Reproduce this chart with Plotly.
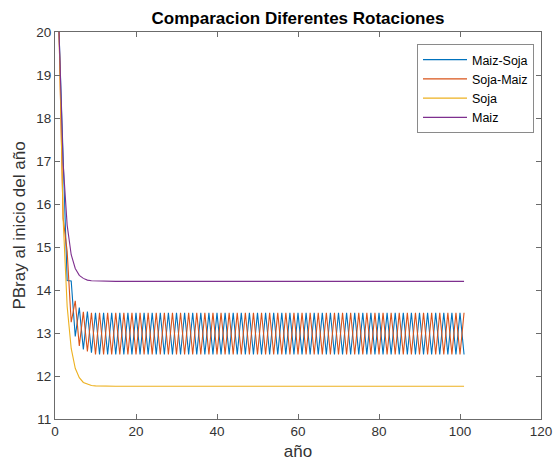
import plotly.graph_objects as go

anio = list(range(1, 102))

maiz_soja = [
    20.0, 16.95, 14.22, 14.21, 12.92, 13.59, 12.62, 13.50, 12.54, 13.47,
    12.50,
    13.47, 12.50, 13.47, 12.50, 13.47, 12.50, 13.47, 12.50, 13.47, 12.50,
    13.47, 12.50, 13.47, 12.50, 13.47, 12.50, 13.47, 12.50, 13.47, 12.50,
    13.47, 12.50, 13.47, 12.50, 13.47, 12.50, 13.47, 12.50, 13.47, 12.50,
    13.47, 12.50, 13.47, 12.50, 13.47, 12.50, 13.47, 12.50, 13.47, 12.50,
    13.47, 12.50, 13.47, 12.50, 13.47, 12.50, 13.47, 12.50, 13.47, 12.50,
    13.47, 12.50, 13.47, 12.50, 13.47, 12.50, 13.47, 12.50, 13.47, 12.50,
    13.47, 12.50, 13.47, 12.50, 13.47, 12.50, 13.47, 12.50, 13.47, 12.50,
    13.47, 12.50, 13.47, 12.50, 13.47, 12.50, 13.47, 12.50, 13.47, 12.50,
    13.47, 12.50, 13.47, 12.50, 13.47, 12.50, 13.47, 12.50, 13.47, 12.50,
]

soja_maiz = [
    20.0, 15.67, 14.90, 13.25, 13.75, 12.70, 13.49, 12.57, 13.47, 12.50,
    13.47,
    12.50, 13.47, 12.50, 13.47, 12.50, 13.47, 12.50, 13.47, 12.50, 13.47,
    12.50, 13.47, 12.50, 13.47, 12.50, 13.47, 12.50, 13.47, 12.50, 13.47,
    12.50, 13.47, 12.50, 13.47, 12.50, 13.47, 12.50, 13.47, 12.50, 13.47,
    12.50, 13.47, 12.50, 13.47, 12.50, 13.47, 12.50, 13.47, 12.50, 13.47,
    12.50, 13.47, 12.50, 13.47, 12.50, 13.47, 12.50, 13.47, 12.50, 13.47,
    12.50, 13.47, 12.50, 13.47, 12.50, 13.47, 12.50, 13.47, 12.50, 13.47,
    12.50, 13.47, 12.50, 13.47, 12.50, 13.47, 12.50, 13.47, 12.50, 13.47,
    12.50, 13.47, 12.50, 13.47, 12.50, 13.47, 12.50, 13.47, 12.50, 13.47,
    12.50, 13.47, 12.50, 13.47, 12.50, 13.47, 12.50, 13.47, 12.50, 13.47,
]

soja = [
    20.0, 15.67, 13.62, 12.64, 12.18, 11.96, 11.85, 11.81, 11.78, 11.77,
    11.765,
    11.76, 11.76, 11.76, 11.76, 11.76, 11.76, 11.76, 11.76, 11.76, 11.76,
    11.76, 11.76, 11.76, 11.76, 11.76, 11.76, 11.76, 11.76, 11.76, 11.76,
    11.76, 11.76, 11.76, 11.76, 11.76, 11.76, 11.76, 11.76, 11.76, 11.76,
    11.76, 11.76, 11.76, 11.76, 11.76, 11.76, 11.76, 11.76, 11.76, 11.76,
    11.76, 11.76, 11.76, 11.76, 11.76, 11.76, 11.76, 11.76, 11.76, 11.76,
    11.76, 11.76, 11.76, 11.76, 11.76, 11.76, 11.76, 11.76, 11.76, 11.76,
    11.76, 11.76, 11.76, 11.76, 11.76, 11.76, 11.76, 11.76, 11.76, 11.76,
    11.76, 11.76, 11.76, 11.76, 11.76, 11.76, 11.76, 11.76, 11.76, 11.76,
    11.76, 11.76, 11.76, 11.76, 11.76, 11.76, 11.76, 11.76, 11.76, 11.76,
]

maiz = [
    20.0, 16.95, 15.51, 14.82, 14.50, 14.34, 14.27, 14.23, 14.215, 14.21,
    14.205,
    14.2, 14.2, 14.2, 14.2, 14.2, 14.2, 14.2, 14.2, 14.2, 14.2,
    14.2, 14.2, 14.2, 14.2, 14.2, 14.2, 14.2, 14.2, 14.2, 14.2,
    14.2, 14.2, 14.2, 14.2, 14.2, 14.2, 14.2, 14.2, 14.2, 14.2,
    14.2, 14.2, 14.2, 14.2, 14.2, 14.2, 14.2, 14.2, 14.2, 14.2,
    14.2, 14.2, 14.2, 14.2, 14.2, 14.2, 14.2, 14.2, 14.2, 14.2,
    14.2, 14.2, 14.2, 14.2, 14.2, 14.2, 14.2, 14.2, 14.2, 14.2,
    14.2, 14.2, 14.2, 14.2, 14.2, 14.2, 14.2, 14.2, 14.2, 14.2,
    14.2, 14.2, 14.2, 14.2, 14.2, 14.2, 14.2, 14.2, 14.2, 14.2,
    14.2, 14.2, 14.2, 14.2, 14.2, 14.2, 14.2, 14.2, 14.2, 14.2,
]

series_names = ["Maiz-Soja", "Soja-Maiz", "Soja", "Maiz"]
series_values = [maiz_soja, soja_maiz, soja, maiz]
colors = ["#0072BD", "#D95319", "#EDB120", "#7E2F8E"]

x_ticks = [0, 20, 40, 60, 80, 100, 120]
y_ticks = [11, 12, 13, 14, 15, 16, 17, 18, 19, 20]

FONT = "Liberation Sans, Arial, Helvetica, sans-serif"
AX = "#6b6b6b"
TXT = "#333333"

L, R, T, B = 55, 541, 32, 419
W, H = 553, 463

fig = go.Figure()
for name, vals, col in zip(series_names, series_values, colors):
    fig.add_trace(go.Scatter(x=anio, y=vals, mode="lines", name=name,
                             line=dict(color=col, width=1.1)))

fig.update_layout(
    width=W, height=H,
    margin=dict(l=L, r=W - R, t=T, b=H - B),
    paper_bgcolor="white", plot_bgcolor="white",
    font=dict(family=FONT, size=12, color=TXT),
    title=dict(text="<b>Comparacion Diferentes Rotaciones</b>",
               x=(L + R) / 2 / W, xanchor="center",
               y=1 - 18 / H, yanchor="middle",
               font=dict(family=FONT, size=17, color="#000000")),
    showlegend=True,
    legend=dict(x=(534 - L) / (R - L), xanchor="right",
                y=(B - 44) / (B - T), yanchor="top",
                bgcolor="white", bordercolor="#8a8a8a", borderwidth=1,
                font=dict(family=FONT, size=12.5, color="#000000"),
                tracegroupgap=0, itemwidth=44),
)
fig.update_xaxes(range=[0, 120], tickvals=x_ticks, ticktext=[str(v) for v in x_ticks],
                 showgrid=False, zeroline=False, showline=True, linecolor=AX, linewidth=1,
                 mirror="ticks", ticks="inside", ticklen=5, tickcolor=AX, automargin=False,
                 tickfont=dict(family=FONT, size=13.5, color=TXT),
                 title=dict(text="año", font=dict(family=FONT, size=17, color=TXT), standoff=6))
fig.update_yaxes(range=[11, 20], tickvals=y_ticks, ticktext=[str(v) for v in y_ticks],
                 showgrid=False, zeroline=False, showline=True, linecolor=AX, linewidth=1,
                 mirror="ticks", ticks="inside", ticklen=5, tickcolor=AX, automargin=False,
                 tickfont=dict(family=FONT, size=13.5, color=TXT),
                 title=dict(text="PBray al inicio del año", font=dict(family=FONT, size=17, color=TXT), standoff=6))

fig.write_html("out.html", config={"displayModeBar": False},
               post_script="document.body.style.margin='0';")
